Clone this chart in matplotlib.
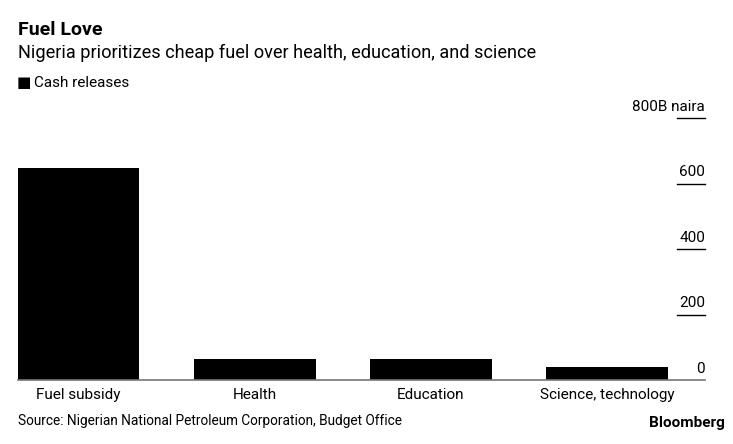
import matplotlib.pyplot as plt
from matplotlib.transforms import blended_transform_factory

categories = ["Fuel subsidy", "Health", "Education", "Science, technology"]
cash_releases = [646, 63, 63, 41]
tick_values = [200, 400, 600, 800]
tick_labels = ["200", "400", "600", "800B naira"]

plt.rcParams["font.family"] = ["Roboto", "DejaVu Sans"]

W, H = 733, 444
fig = plt.figure(figsize=(W / 100, H / 100), dpi=100)
ax = fig.add_axes([18 / W, 1 - 380 / H, (705 - 18) / W, (380 - 118) / H])

x = list(range(len(categories)))
ax.bar(x, cash_releases, width=0.69, color="black", zorder=2)
ax.set_xlim(-0.345, 3.557)
ax.set_ylim(0, 800)

for side in ["top", "right", "left"]:
    ax.spines[side].set_visible(False)
ax.spines["bottom"].set_color("#777777")
ax.spines["bottom"].set_linewidth(1.2)
ax.set_yticks([])
ax.set_xticks(x)
ax.set_xticklabels(categories, fontsize=11)
ax.tick_params(axis="x", length=0, pad=6)

# right-hand gridline stubs with labels sitting on top of them
trans = blended_transform_factory(ax.transAxes, ax.transData)
stub_left = (677 - 18) / (705 - 18)
for v in tick_values:
    ax.plot([stub_left, 1], [v, v], transform=trans, color="black", lw=1, clip_on=False)
for v, lab in zip([0] + tick_values, ["0"] + tick_labels):
    ax.annotate(lab, xy=(1, v), xycoords=trans, xytext=(0, 3), textcoords="offset points",
                ha="right", va="bottom", fontsize=11)

fig.text(18 / W, 1 - 30 / H, "Fuel Love", fontsize=14, fontweight="bold", va="center")
fig.text(18 / W, 1 - 53 / H, "Nigeria prioritizes cheap fuel over health, education, and science",
         fontsize=13.1, va="center")
fig.text(17 / W, 1 - 83 / H, "\u25A0", fontsize=11, va="center")
fig.text(34 / W, 1 - 83 / H, "Cash releases", fontsize=11, va="center")
fig.text(18 / W, 1 - 421 / H, "Source: Nigerian National Petroleum Corporation, Budget Office",
         fontsize=9.8, va="center")
fig.text(725 / W, 1 - 423 / H, "Bloomberg", fontsize=11, fontweight="bold", ha="right", va="center")

fig.savefig("out.png", dpi=100)
